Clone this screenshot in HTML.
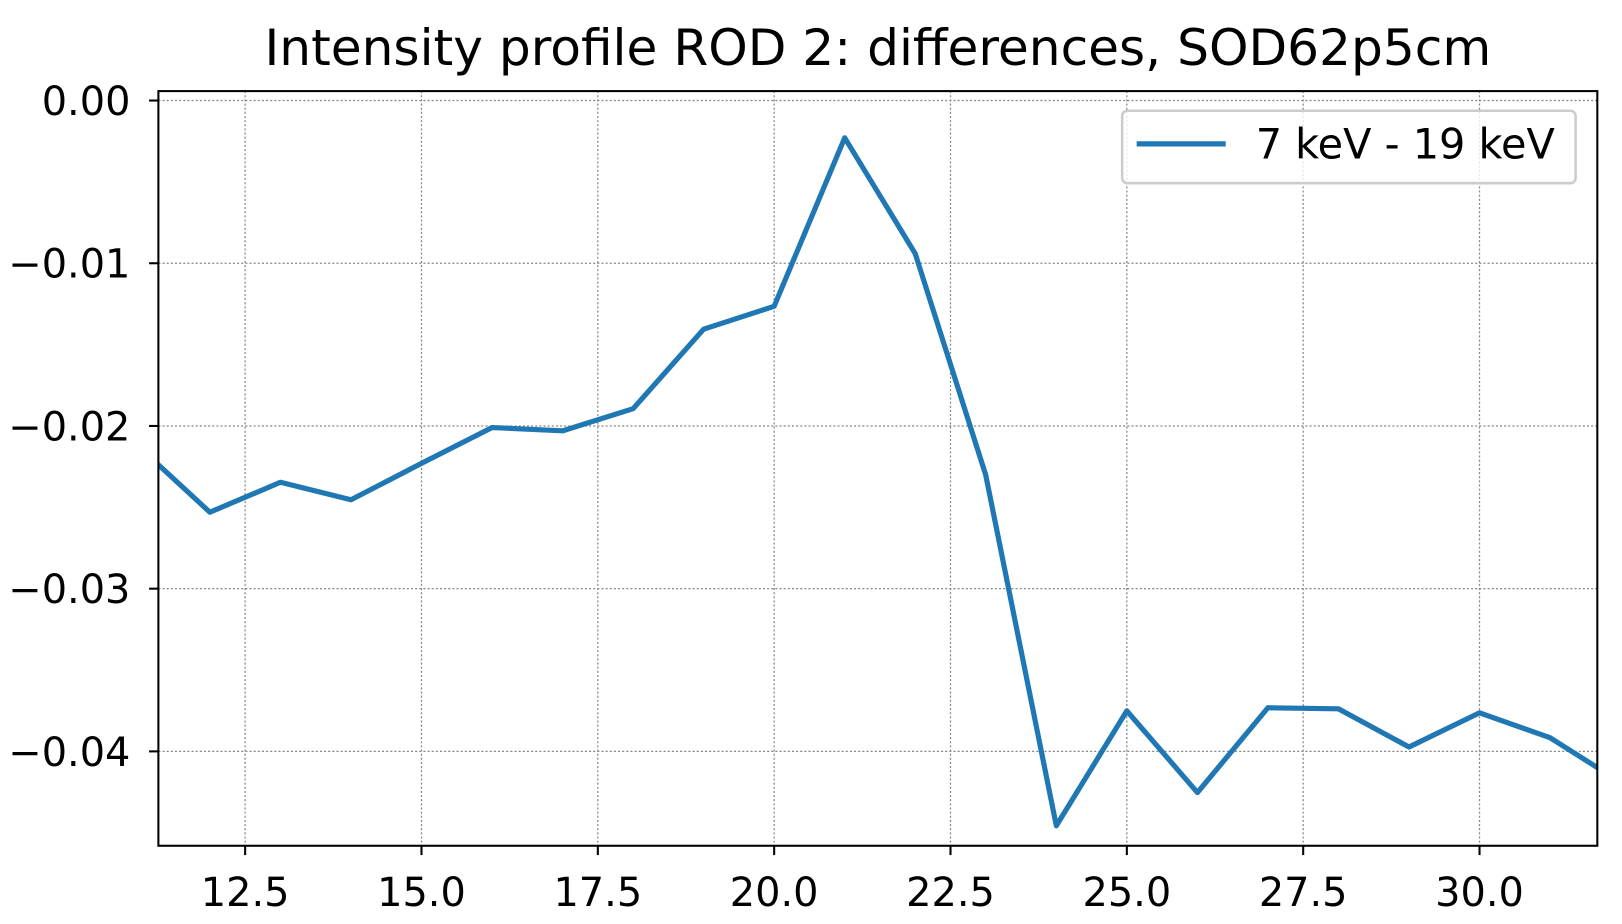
<!DOCTYPE html>
<html><head><meta charset="utf-8"><style>
html,body{margin:0;padding:0;background:#fff;}
svg{display:block;font-family:"DejaVu Sans","Liberation Sans",sans-serif;}
</style></head><body>
<svg id="chart" width="1622" height="924" viewBox="0 0 1622 924" xmlns="http://www.w3.org/2000/svg">
<defs><clipPath id="plotclip"><rect x="153" y="88" width="1390" height="729"/></clipPath></defs>
<g transform="scale(1.0352)">
<text x="848" y="63" font-size="48.5" text-anchor="middle" fill="#000">Intensity profile ROD 2: differences, SOD62p5cm</text>
<g id="grid"></g>
<g id="series" clip-path="url(#plotclip)"></g>
<rect x="153" y="88" width="1390" height="729" fill="none" stroke="#000" stroke-width="2"/>
<g id="axes"></g>
<g>
<rect x="1084" y="107" width="438" height="70" rx="5" fill="#fff" fill-opacity="0.8" stroke="#ccc" stroke-width="2.5"/>
<line x1="1098" y1="139" x2="1184" y2="139" stroke="#1f77b4" stroke-width="5"/>
<text x="1213" y="153" font-size="40" fill="#000">7 keV - 19 keV</text>
</g>
</g>
</svg>
<script>
const xValues = [11,12,13,14,15,16,17,18,19,20,21,22,23,24,25,26,27,28,29,30,31,32];
const yValues = [-0.0213,-0.0253,-0.02346,-0.02454,-0.0223,-0.0201,-0.0203,-0.01894,-0.01405,-0.01265,-0.00229,-0.00941,-0.02301,-0.04457,-0.03751,-0.04253,-0.03732,-0.03738,-0.03973,-0.03763,-0.03916,-0.0419];
const xTicks = [12.5,15.0,17.5,20.0,22.5,25.0,27.5,30.0];
const yTicks = [0,-0.01,-0.02,-0.03,-0.04];
const yTickLabels = ["0.00","\u22120.01","\u22120.02","\u22120.03","\u22120.04"];
const X0=153,X1=1543,Y0=817,Y1=88;
const xMin=11.27,xMax=31.67,yMin=-0.0458,yMax=0.00058;
function sx(v){return X0+(v-xMin)/(xMax-xMin)*(X1-X0);}
function sy(v){return Y0-(v-yMin)/(yMax-yMin)*(Y0-Y1);}
const NS="http://www.w3.org/2000/svg";
const grid=document.getElementById('grid'),axes=document.getElementById('axes'),series=document.getElementById('series');
function mk(tag,attrs,parent){const e=document.createElementNS(NS,tag);for(const k in attrs)e.setAttribute(k,attrs[k]);parent.appendChild(e);return e;}
xTicks.forEach(t=>{
  const x=sx(t);
  const g=mk('line',{x1:x,x2:x,y1:Y1,y2:Y0,stroke:'#888','stroke-width':1.2,'stroke-dasharray':'2,2'},grid);
  
  
  const tk=mk('line',{x1:x,x2:x,y1:Y0,y2:Y0+9,stroke:'#000','stroke-width':2},axes);
  
  
  const tx=mk('text',{x:x,y:Y0+58,'font-size':38.5,'text-anchor':'middle',fill:'#000'},axes);
  tx.textContent=t.toFixed(1);
  
  
});
yTicks.forEach((t,i)=>{
  const y=sy(t);
  const g=mk('line',{x1:X0,x2:X1,y1:y,y2:y,stroke:'#888','stroke-width':1.2,'stroke-dasharray':'2,2'},grid);
  
  
  const tk=mk('line',{x1:X0-9,x2:X0,y1:y,y2:y,stroke:'#000','stroke-width':2},axes);
  
  
  const tx=mk('text',{x:X0-27,y:y+14,'font-size':38.5,'text-anchor':'end',fill:'#000'},axes);
  tx.textContent=yTickLabels[i];
  
  
});
const pts=xValues.map((v,i)=>sx(v).toFixed(1)+','+sy(yValues[i]).toFixed(1)).join(' ');
const line=mk('polyline',{points:pts,fill:'none',stroke:'#1f77b4','stroke-width':5,'stroke-linejoin':'round'},series);


</script>
</body></html>
